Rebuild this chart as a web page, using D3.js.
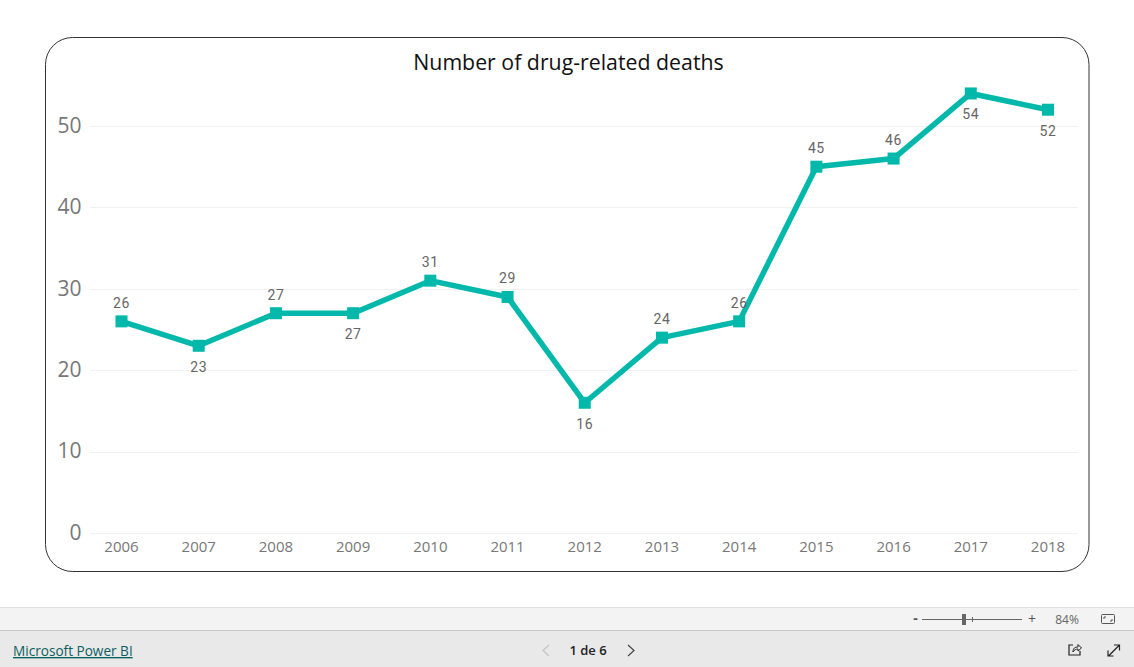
<!DOCTYPE html>
<html>
<head>
<meta charset="utf-8">
<script src="https://cdn.jsdelivr.net/npm/d3@7"></script>
<style>
  html, body { margin: 0; padding: 0; background: #fff; overflow: hidden; }
  text { font-family: "Open Sans", "Noto Sans", sans-serif; }
</style>
</head>
<body>
<div id="chart"></div>
<script>
const years = [2006, 2007, 2008, 2009, 2010, 2011, 2012, 2013, 2014, 2015, 2016, 2017, 2018];
const deaths = [26, 23, 27, 27, 31, 29, 16, 24, 26, 45, 46, 54, 52];
const yTicks = [0, 10, 20, 30, 40, 50];
const labelsBelow = [2007, 2009, 2012, 2017, 2018];
const chartTitle = 'Number of drug-related deaths';

const w = 1134, h = 667;
const teal = '#01b8aa';

const svg = d3.select('#chart').append('svg')
  .attr('width', w).attr('height', h)
  .style('display', 'block');

// Card
svg.append('rect')
  .attr('x', 45.5).attr('y', 37.5)
  .attr('width', 1043.5).attr('height', 534)
  .attr('rx', 27).attr('ry', 27)
  .attr('fill', '#fff')
  .attr('stroke', '#333').attr('stroke-width', 1);

svg.append('text')
  .attr('x', 568.5).attr('y', 69.5)
  .attr('text-anchor', 'middle')
  .attr('font-size', 21.3)
  .attr('fill', '#111')
  .text(chartTitle);

const x = d3.scalePoint().domain(years).range([121.5, 1048]);
const y = d3.scaleLinear().domain([0, 50]).range([533, 126]);

// Gridlines
svg.append('g').selectAll('line')
  .data(yTicks).join('line')
  .attr('x1', 90).attr('x2', 1078)
  .attr('y1', d => Math.round(y(d)) + 0.5).attr('y2', d => Math.round(y(d)) + 0.5)
  .attr('stroke', '#f1f1f1');

// Axes
const yAxis = svg.append('g')
  .attr('transform', 'translate(81.5,-0.5)')
  .call(d3.axisLeft(y).tickValues(yTicks).tickSize(0).tickPadding(0));
yAxis.select('.domain').remove();
yAxis.selectAll('text')
  .attr('font-size', 21)
  .attr('fill', '#777')
  .style('font-family', '"Open Sans", sans-serif');

const xAxis = svg.append('g')
  .attr('transform', 'translate(-0.5,538)')
  .call(d3.axisBottom(x).tickFormat(d3.format('d')).tickSize(0).tickPadding(3));
xAxis.select('.domain').remove();
xAxis.selectAll('text')
  .attr('font-size', 15)
  .attr('fill', '#777')
  .style('font-family', '"Open Sans", sans-serif');

// Line and markers
const line = d3.line()
  .x((d, i) => x(years[i]))
  .y(d => y(d));

svg.append('path')
  .datum(deaths)
  .attr('d', line)
  .attr('fill', 'none')
  .attr('stroke', teal)
  .attr('stroke-width', 5.5)
  .attr('stroke-linejoin', 'round');

svg.append('g').selectAll('rect')
  .data(deaths).join('rect')
  .attr('x', (d, i) => x(years[i]) - 6)
  .attr('y', d => y(d) - 6)
  .attr('width', 12).attr('height', 12)
  .attr('fill', teal);

// Data labels
svg.append('g').selectAll('text')
  .data(deaths).join('text')
  .attr('x', (d, i) => x(years[i]))
  .attr('y', (d, i) => y(d) + (labelsBelow.includes(years[i]) ? 26 : -13.5))
  .attr('text-anchor', 'middle')
  .attr('font-size', 14)
  .attr('letter-spacing', 0.6)
  .attr('fill', '#666')
  .style('font-family', 'Roboto, sans-serif')
  .text(d => d);

// Power BI footer
svg.append('rect').attr('x', 0).attr('y', 607).attr('width', w).attr('height', 23)
  .attr('fill', '#f3f3f3');
svg.append('rect').attr('x', 0).attr('y', 630).attr('width', w).attr('height', 37)
  .attr('fill', '#e9e9e9');
svg.append('line').attr('x1', 0).attr('x2', w).attr('y1', 607.5).attr('y2', 607.5)
  .attr('stroke', '#e0e0e0');
svg.append('line').attr('x1', 0).attr('x2', w).attr('y1', 630.5).attr('y2', 630.5)
  .attr('stroke', '#c8c8c8');

svg.append('text')
  .attr('x', 13).attr('y', 656)
  .attr('font-size', 13.6)
  .attr('fill', '#0c5f5f')
  .attr('text-decoration', 'underline')
  .text('Microsoft Power BI');

svg.append('text')
  .attr('x', 588).attr('y', 655)
  .attr('text-anchor', 'middle')
  .attr('font-size', 13)
  .attr('font-weight', 600)
  .attr('fill', '#222')
  .text('1 de 6');

// Page arrows
svg.append('path').attr('d', 'M549,645 L543,650.5 L549,656')
  .attr('fill', 'none').attr('stroke', '#c4c4c4').attr('stroke-width', 1.2);
svg.append('path').attr('d', 'M628,645 L634,650.5 L628,656')
  .attr('fill', 'none').attr('stroke', '#444').attr('stroke-width', 1.2);

// Zoom slider
svg.append('text').attr('x', 915.5).attr('y', 623).attr('text-anchor', 'middle')
  .attr('font-size', 14).attr('font-weight', 700).attr('fill', '#555').text('-');
svg.append('line').attr('x1', 922).attr('x2', 1022).attr('y1', 619.5).attr('y2', 619.5)
  .attr('stroke', '#666');
svg.append('line').attr('x1', 972.5).attr('x2', 972.5).attr('y1', 617).attr('y2', 622)
  .attr('stroke', '#666');
svg.append('rect').attr('x', 962).attr('y', 614).attr('width', 4).attr('height', 11)
  .attr('fill', '#666');
svg.append('text').attr('x', 1032).attr('y', 623.5).attr('text-anchor', 'middle')
  .attr('font-size', 14).attr('fill', '#555').text('+');
svg.append('text').attr('x', 1067).attr('y', 623.5).attr('text-anchor', 'middle')
  .attr('font-size', 12).attr('fill', '#666').text('84%');

// Fit-to-page icon
svg.append('rect').attr('x', 1101.5).attr('y', 614.5).attr('width', 13).attr('height', 9).attr('rx', 1)
  .attr('fill', 'none').attr('stroke', '#555');
svg.append('path').attr('d', 'M1104,619 V617 H1106 M1112,619 V621 H1110')
  .attr('fill', 'none').attr('stroke', '#555');

// Share icon
svg.append('path').attr('d', 'M1073,645 H1069 V655 H1080 V651')
  .attr('fill', 'none').attr('stroke', '#222').attr('stroke-width', 1.2);
svg.append('path').attr('d', 'M1073,652 C1073,648 1075,647 1078,647 V644.5 L1081.5,648 L1078,651 V649 C1076,649 1074,650 1073,652 Z')
  .attr('fill', 'none').attr('stroke', '#222');

// Expand icon
svg.append('path').attr('d', 'M1108.5,656 L1119,645.5 M1114,645 H1119.5 V650.5 M1108,650.5 V656 H1113.5')
  .attr('fill', 'none').attr('stroke', '#222').attr('stroke-width', 1.2);
</script>
</body>
</html>
